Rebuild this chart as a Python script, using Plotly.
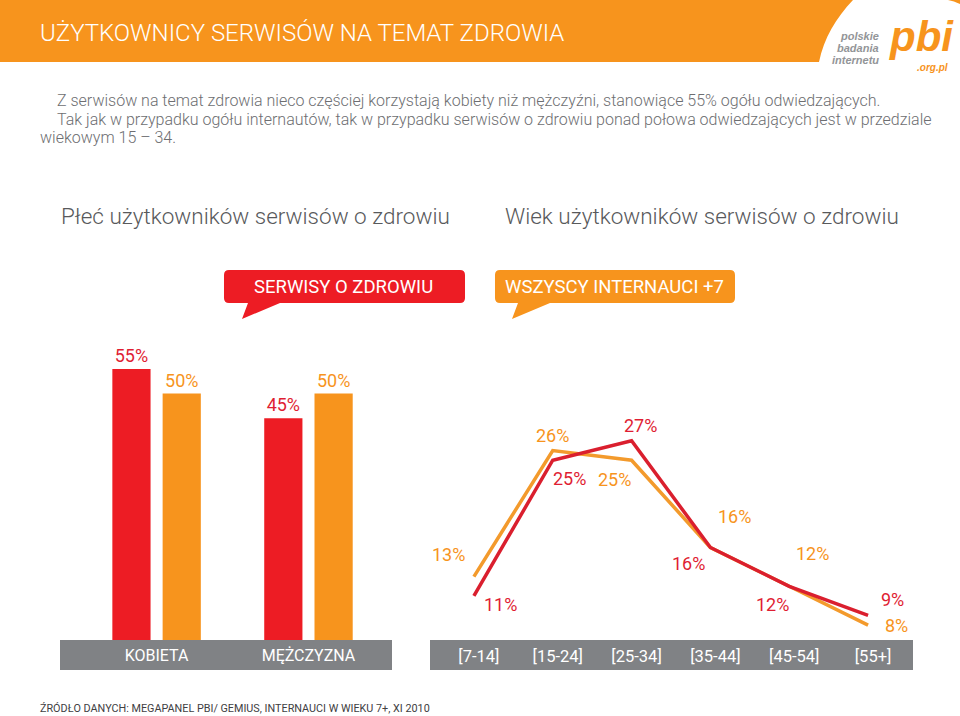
import plotly.graph_objects as go

W, H = 960, 716


def px(x):
    return x / W


def py(y):
    return 1 - y / H


# ---------------- data ----------------
gender_categories = ["KOBIETA", "MĘŻCZYZNA"]
gender_health = [55, 45]      # SERWISY O ZDROWIU
gender_all = [50, 50]         # WSZYSCY INTERNAUCI +7

age_categories = ["[7-14]", "[15-24]", "[25-34]", "[35-44]", "[45-54]", "[55+]"]
age_health = [11, 25, 27, 16, 12, 9]
age_all = [13, 26, 25, 16, 12, 8]

# label offsets (pixels) for the line labels
health_label_shift = [(27, -9), (17, -18), (9, 15), (-22, -16), (-17, -18), (24, 16)]
all_label_shift = [(-25, 22), (0, 15), (-17, -19), (24, 31), (23, 33), (28, 0)]

RED = "#ED1C24"
RED_LINE = "#DA1F2E"
RED_TXT = "#DF1E33"
ORANGE = "#F7941D"
ORANGE_LINE = "#F39A2C"
GRAY_BAND = "#808285"
TXT = "#6D6E71"
FONT = "Roboto"

fig = go.Figure()

# ---------------- bars ----------------
fig.add_trace(go.Bar(
    x=gender_categories, y=gender_health, name="SERWISY O ZDROWIU",
    marker=dict(color=RED, line=dict(width=0)),
    text=[f"{v}%" for v in gender_health], textposition="outside",
    textfont=dict(color=RED_TXT, size=18, family=FONT),
    cliponaxis=False, xaxis="x", yaxis="y", hoverinfo="skip"))
fig.add_trace(go.Bar(
    x=gender_categories, y=gender_all, name="WSZYSCY INTERNAUCI +7",
    marker=dict(color=ORANGE, line=dict(width=0)),
    text=[f"{v}%" for v in gender_all], textposition="outside",
    textfont=dict(color=ORANGE, size=18, family=FONT),
    cliponaxis=False, xaxis="x", yaxis="y", hoverinfo="skip"))

# ---------------- lines ----------------
fig.add_trace(go.Scatter(
    x=age_categories, y=age_all, mode="lines",
    line=dict(color=ORANGE_LINE, width=3.5),
    xaxis="x2", yaxis="y2", hoverinfo="skip", cliponaxis=False))
fig.add_trace(go.Scatter(
    x=age_categories, y=age_health, mode="lines",
    line=dict(color=RED_LINE, width=3.5),
    xaxis="x2", yaxis="y2", hoverinfo="skip", cliponaxis=False))

annotations = []
for i, c in enumerate(age_categories):
    dx, dy = all_label_shift[i]
    annotations.append(dict(x=c, y=age_all[i], xref="x2", yref="y2", text=f"{age_all[i]}%",
                            showarrow=False, xshift=dx, yshift=dy,
                            font=dict(color=ORANGE, size=18, family=FONT)))
    dx, dy = health_label_shift[i]
    annotations.append(dict(x=c, y=age_health[i], xref="x2", yref="y2", text=f"{age_health[i]}%",
                            showarrow=False, xshift=dx, yshift=dy,
                            font=dict(color=RED_TXT, size=18, family=FONT)))

# ---------------- texts ----------------
annotations.append(dict(x=px(38), y=py(33), xref="paper", yref="paper", xanchor="left", yanchor="middle",
                        text="UŻYTKOWNICY SERWISÓW NA TEMAT ZDROWIA", showarrow=False,
                        font=dict(color="white", size=24, family=FONT, weight=300)))
body = [
    (55, 100, "Z serwisów na temat zdrowia nieco częściej korzystają kobiety niż mężczyźni, stanowiące 55% ogółu odwiedzających."),
    (55, 119, "Tak jak w przypadku ogółu internautów, tak w przypadku serwisów o zdrowiu ponad połowa odwiedzających jest w przedziale"),
    (38, 138, "wiekowym 15 – 34."),
]
for x, y, t in body:
    annotations.append(dict(x=px(x), y=py(y), xref="paper", yref="paper", xanchor="left", yanchor="middle",
                            text=t, showarrow=False, font=dict(color=TXT, size=16, family=FONT, weight=300)))

annotations.append(dict(x=px(255), y=py(216), xref="paper", yref="paper", xanchor="center", yanchor="middle",
                        text="Płeć użytkowników serwisów o zdrowiu", showarrow=False,
                        font=dict(color="#58595B", size=22.5, family=FONT, weight=300)))
annotations.append(dict(x=px(702), y=py(216), xref="paper", yref="paper", xanchor="center", yanchor="middle",
                        text="Wiek użytkowników serwisów o zdrowiu", showarrow=False,
                        font=dict(color="#58595B", size=22.5, family=FONT, weight=300)))

annotations.append(dict(x=px(343), y=py(287), xref="paper", yref="paper", xanchor="center", yanchor="middle",
                        text="SERWISY O ZDROWIU", showarrow=False,
                        font=dict(color="white", size=18.5, family=FONT)))
annotations.append(dict(x=px(614), y=py(287), xref="paper", yref="paper", xanchor="center", yanchor="middle",
                        text="WSZYSCY INTERNAUCI +7", showarrow=False,
                        font=dict(color="white", size=18.5, family=FONT)))

annotations.append(dict(x=px(38), y=py(708), xref="paper", yref="paper", xanchor="left", yanchor="middle",
                        text="ŹRÓDŁO DANYCH: MEGAPANEL PBI/ GEMIUS, INTERNAUCI W WIEKU 7+, XI 2010", showarrow=False,
                        font=dict(color="#414042", size=10.8, family=FONT)))

# logo
for y, t in [(36, "polskie"), (48, "badania"), (60, "internetu")]:
    annotations.append(dict(x=px(881), y=py(y), xref="paper", yref="paper", xanchor="right", yanchor="middle",
                            text=f"<b><i>{t}</i></b>", showarrow=False,
                            font=dict(color="#939598", size=11, family="Liberation Sans")))
annotations.append(dict(x=px(921), y=py(36), xref="paper", yref="paper", xanchor="center", yanchor="middle",
                        text="<b><i>pbi</i></b>", showarrow=False,
                        font=dict(color=ORANGE, size=42, family="Liberation Sans")))
annotations.append(dict(x=px(950), y=py(68), xref="paper", yref="paper", xanchor="right", yanchor="middle",
                        text="<b><i>.org.pl</i></b>", showarrow=False,
                        font=dict(color=ORANGE, size=10, family="Liberation Sans")))


# ---------------- shapes ----------------
def P(x, y):
    return f"{px(x):.5f},{py(y):.5f}"


def bubble(x0, x1, y0, y1, t0, t1, tip, r=5):
    return ("M " + P(x0 + r, y0) + " L " + P(x1 - r, y0) + " Q " + P(x1, y0) + " " + P(x1, y0 + r)
            + " L " + P(x1, y1 - r) + " Q " + P(x1, y1) + " " + P(x1 - r, y1)
            + " L " + P(t1, y1) + " L " + P(*tip) + " L " + P(t0, y1)
            + " L " + P(x0 + r, y1) + " Q " + P(x0, y1) + " " + P(x0, y1 - r)
            + " L " + P(x0, y0 + r) + " Q " + P(x0, y0) + " " + P(x0 + r, y0) + " Z")


shapes = [
    # header band
    dict(type="path", xref="paper", yref="paper", layer="below", line=dict(width=0), fillcolor=ORANGE,
         path="M " + P(0, 0) + " L " + P(853, 0) + " C " + P(836, 18) + " " + P(824, 38) + " " + P(819, 62)
              + " L " + P(0, 62) + " Z"),
    dict(type="path", xref="paper", yref="paper", layer="below", line=dict(width=0), fillcolor=ORANGE,
         path="M " + P(948, 0) + " L " + P(960, 0) + " L " + P(960, 4) + " C " + P(956, 2) + " " + P(952, 1) + " "
              + P(948, 0) + " Z"),
    # bubbles
    dict(type="path", xref="paper", yref="paper", line=dict(width=0), fillcolor=RED,
         path=bubble(224, 465, 270, 303, 248, 280, (242, 319))),
    dict(type="path", xref="paper", yref="paper", line=dict(width=0), fillcolor=ORANGE,
         path=bubble(495, 735, 270, 303, 518, 550, (512, 319))),
    # axis bands
    dict(type="rect", xref="paper", yref="paper", layer="below", line=dict(width=0), fillcolor=GRAY_BAND,
         x0=px(60), x1=px(392), y0=py(670), y1=py(640)),
    dict(type="rect", xref="paper", yref="paper", layer="below", line=dict(width=0), fillcolor=GRAY_BAND,
         x0=px(430), x1=px(913), y0=py(670), y1=py(640)),
]

fig.update_layout(
    width=W, height=H, margin=dict(l=0, r=0, t=0, b=0),
    paper_bgcolor="white", plot_bgcolor="rgba(0,0,0,0)",
    showlegend=False, barmode="group", bargap=0.338, bargroupgap=0.24,
    font=dict(family=FONT),
    xaxis=dict(domain=[px(60), px(392)], type="category", range=[-0.636, 1.55],
               showgrid=False, zeroline=False, showline=False, ticks="",
               tickfont=dict(color="white", size=16, family=FONT), ticklabelstandoff=4),
    yaxis=dict(domain=[py(640), py(330)], range=[0, 62.9], visible=False),
    xaxis2=dict(domain=[px(430), px(913)], type="category", range=[-0.557, 5.57], anchor="y2",
                showgrid=False, zeroline=False, showline=False, ticks="",
                tickfont=dict(color="white", size=16.5, family=FONT), ticklabelstandoff=4,
                ticklabelshift=5),
    yaxis2=dict(domain=[py(640), py(390)], range=[6.46, 32.24], visible=False, anchor="x2"),
    annotations=annotations, shapes=shapes,
    hovermode=False,
)

fig.write_html("out.html")
